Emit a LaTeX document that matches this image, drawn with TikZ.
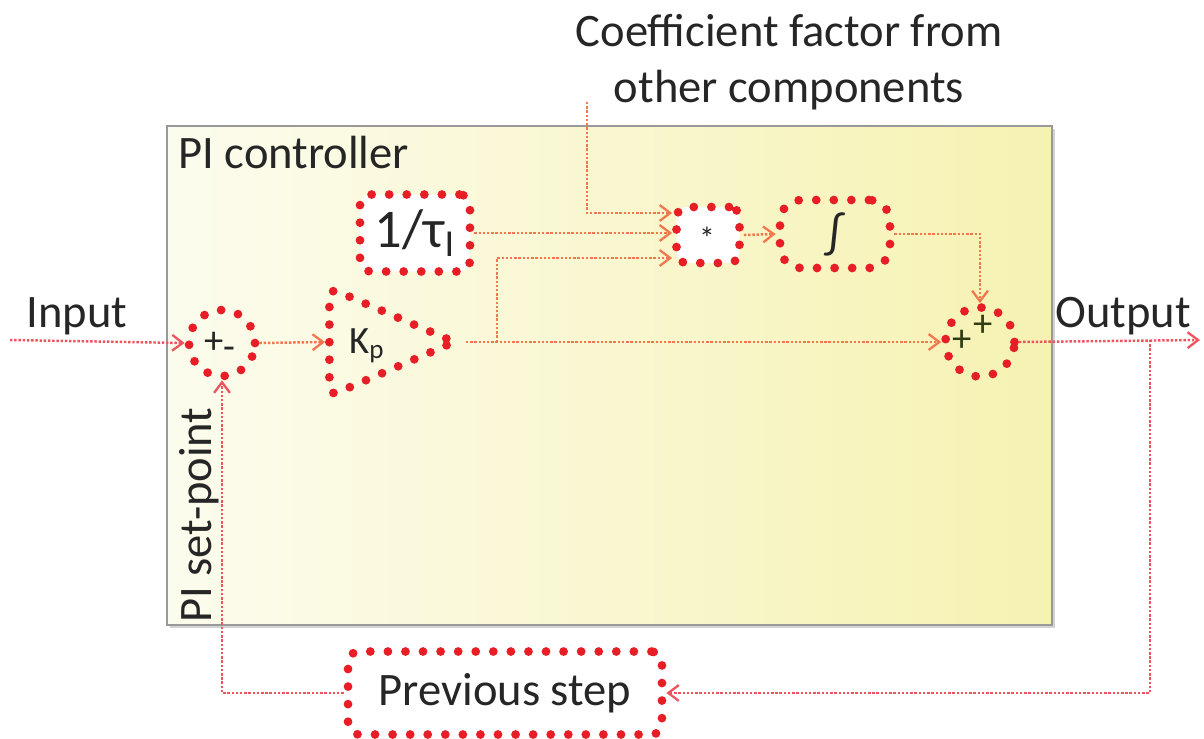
\documentclass[tikz,border=0pt]{standalone}
\usepackage{fontspec}
\setmainfont{Carlito}
\usetikzlibrary{arrows.meta,shapes.geometric,shadows}
\definecolor{dotred}{RGB}{232,30,38}
\definecolor{wirered}{RGB}{238,84,96}
\definecolor{wireorange}{RGB}{242,118,78}
\definecolor{panelleft}{RGB}{252,252,238}
\definecolor{panelright}{RGB}{246,242,178}
\definecolor{plusgreen}{RGB}{50,60,20}
\tikzset{
  dotbox/.style={draw=dotred, line width=5pt, line cap=round,
    dash pattern=on 0pt off 10pt, rounded corners=6pt, inner sep=0pt},
  wire/.style={draw=wireorange, densely dotted, line width=1.4pt,
    -{Straight Barb[length=6pt,width=9pt,line width=1.3pt]}},
  outwire/.style={wire, draw=wirered},
  txt/.style={font=\fontsize{26.5}{30}\selectfont, text=black!85, inner sep=0pt},
}
\begin{document}
\begin{tikzpicture}[x=0.02cm,y=-0.02cm]
  \useasboundingbox (0,0) rectangle (1204,738);
  % controller panel
  \node[draw=black!40, line width=0.8pt, left color=panelleft, right color=panelright,
    drop shadow={shadow xshift=1.5pt, shadow yshift=-1.5pt, opacity=0.35},
    minimum width=17.7cm, minimum height=9.98cm, inner sep=0pt] (ctrl) at (609.5,375.5) {};
  \node[txt, anchor=north west] (ctrlname) at (178,136) {PI controller};
  \node[txt, rotate=90] (setpoint) at (199,515) {PI set-point};

  % blocks
  \node[dotbox, circle, minimum size=1.32cm] (sum1) at (222,343) {};
  \node[txt, font=\fontsize{22}{24}\selectfont] (sum1sign) at (220,346) {+\raisebox{-3pt}{-}};
  \node[dotbox, isosceles triangle, isosceles triangle stretches, rounded corners=5pt,
    minimum width=2.16cm, minimum height=2.5cm, anchor=lower side] (kp) at (325,342) {};
  \node[txt, font=\fontsize{22}{24}\selectfont] (kplabel) at (367,346) {K\textsubscript{p}};
  \node[dotbox, fill=white, minimum width=2.2cm, minimum height=1.54cm] (tau) at (415,233) {};
  \node[txt, font=\fontsize{31}{34}\selectfont] (taulabel) at (tau) {1/τ\textsubscript{I}};
  \node[dotbox, fill=white, minimum width=1.26cm, minimum height=1.12cm] (mult) at (708,235) {};
  \node[txt, font=\fontsize{18}{20}\selectfont] (multlabel) at (707,238) {*};
  \node[dotbox, rounded corners=12pt, minimum width=2.2cm, minimum height=1.36cm] (integ) at (835,234) {};
  \node[txt] (integlabel) at (integ) {∫};
  \node[dotbox, circle, minimum size=1.38cm] (sum2) at (980,342) {};
  \node[txt, text=plusgreen, font=\fontsize{22}{24}\selectfont] (plustop) at (983,326) {+};
  \node[txt, text=plusgreen, font=\fontsize{22}{24}\selectfont] (plusleft) at (962,341) {+};
  \node[dotbox, minimum width=6.28cm, minimum height=1.66cm] (prev) at (505,693) {};
  \node[txt] (prevlabel) at (prev) {Previous step};

  % outside texts
  \node[txt] (inputlabel) at (77,316) {Input};
  \node[txt] (outputlabel) at (1123,316) {Output};
  \node[txt, align=center, font=\fontsize{26.5}{32}\selectfont] (coeflabel) at (789,62)
    {Coefficient factor from\\other components};

  % connectors
  \coordinate (inp) at (10,340);
  \coordinate (outp) at (1200,340);
  \coordinate (coef) at (587,102);
  \coordinate (branch) at (497,342);
  \coordinate (fb) at (1150,340);
  \draw[outwire] (inp) -- (sum1.west);
  \draw[wire] (sum1.east) -- (kp.lower side);
  \draw[wire] (kp.apex) -- (sum2.west);
  \draw[wire] (coef) |- ([yshift=0.44cm]mult.west);
  \draw[wire] (tau.east) -- (tau.east -| mult.west);
  \draw[wire] (branch) |- ([yshift=-0.46cm]mult.west);
  \draw[wire] (mult.east) -- (integ.west);
  \draw[wire] (integ.east) -| (sum2.north);
  \draw[outwire] (sum2.east) -- (outp);
  \draw[outwire] (fb) |- (prev.east);
  \draw[outwire] (prev.west) -| (sum1.south);
\end{tikzpicture}
\end{document}
